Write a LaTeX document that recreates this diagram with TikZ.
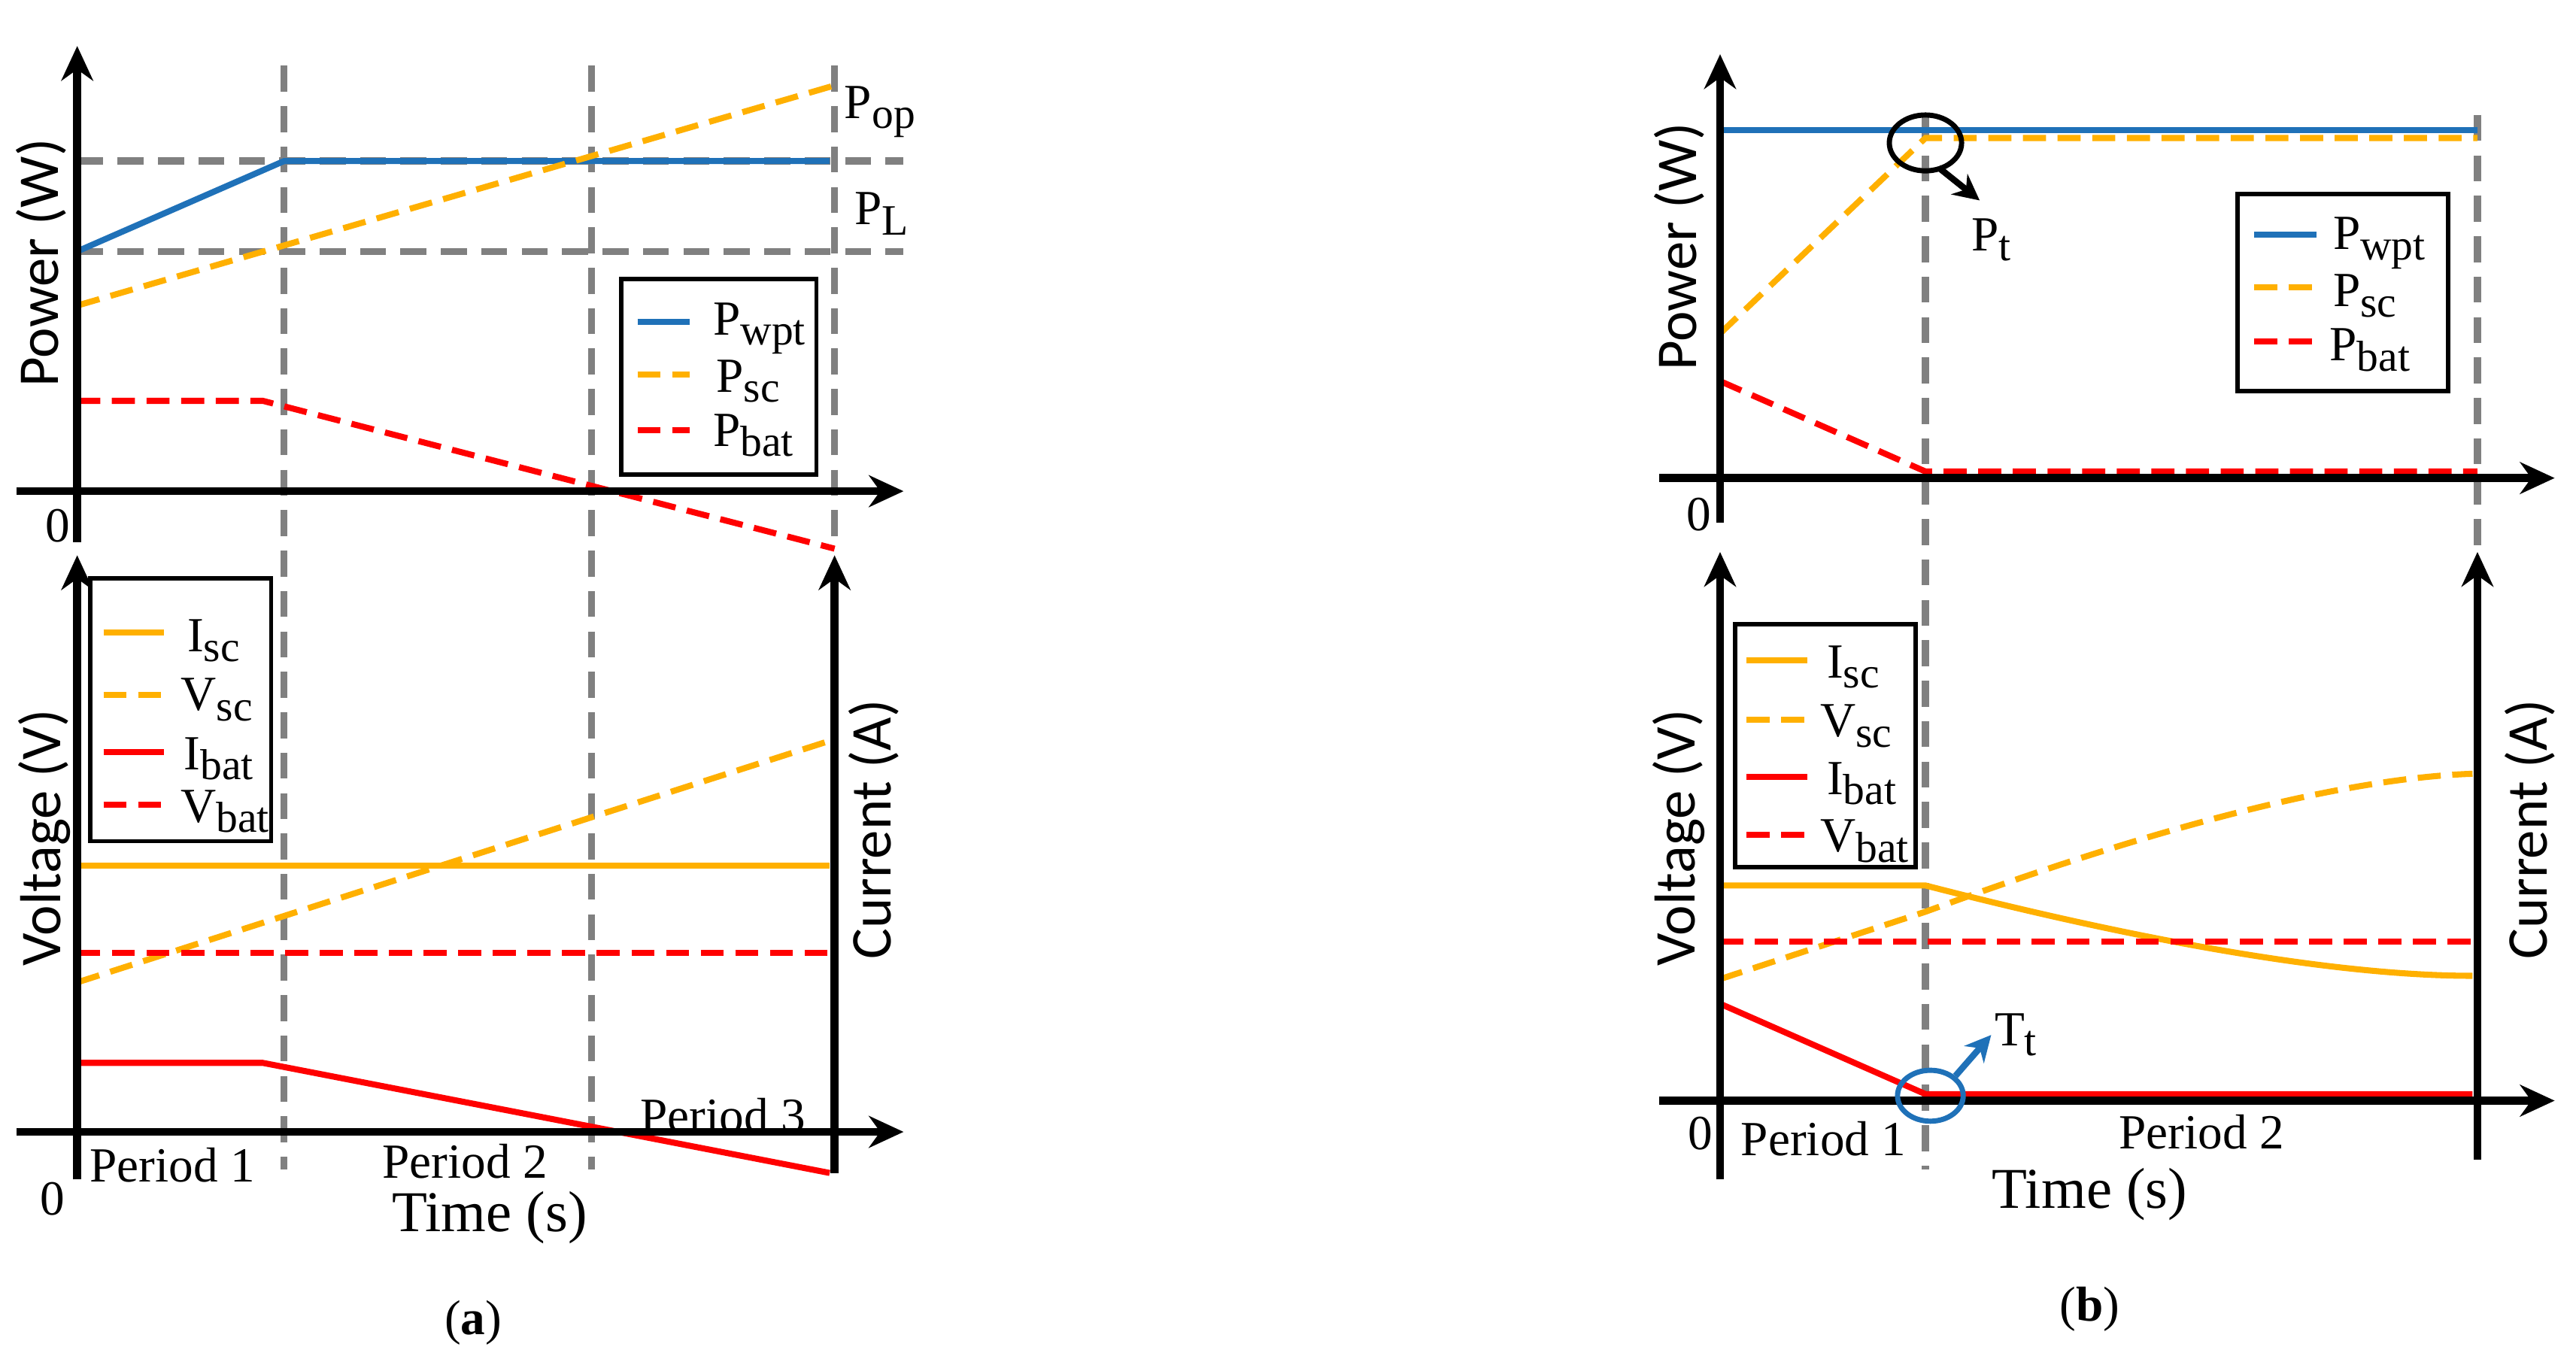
\documentclass[tikz,border=0pt]{standalone}
\usepackage{fontspec}
\setmainfont{Liberation Serif}
\newfontfamily\lblfont{Carlito}
\usetikzlibrary{arrows.meta,shapes.geometric}
\definecolor{cblue}{RGB}{31,113,184}
\definecolor{corange}{RGB}{255,176,0}
\definecolor{cred}{RGB}{255,0,0}
\definecolor{cgray}{RGB}{128,128,128}
\newcommand{\subx}[1]{\raisebox{-0.45ex}{\fontsize{15}{15}\selectfont #1}}
\begin{document}
\begin{tikzpicture}[x=0.02cm,y=-0.02cm,
 ax/.style={line width=2.8pt,-{Stealth[length=12pt,width=11pt]}},
 gd/.style={cgray,line width=2.4pt,dash pattern=on 9pt off 5pt},
 bl/.style={cblue,line width=2.1pt},
 os/.style={corange,line width=2.1pt},
 od/.style={corange,line width=2.1pt,dash pattern=on 8pt off 4pt},
 rs/.style={cred,line width=2.1pt},
 rd/.style={cred,line width=2.1pt,dash pattern=on 8pt off 4pt},
 tx/.style={font=\fontsize{17}{19}\selectfont,inner sep=1pt},
 lb/.style={font=\lblfont\fontsize{20}{22}\selectfont,inner sep=1pt},
 lg/.style={draw,line width=1.5pt,fill=white}]
\useasboundingbox (0,0) rectangle (1568,829);
% ===== (a) =====
\draw[gd] (173,40) -- (173,712);
\draw[gd] (360,40) -- (360,712);
\draw[gd] (508,40) -- (508,330);
\draw[gd] (47,98) -- (550,98);
\draw[gd] (47,153) -- (550,153);
\draw[bl] (47,153) -- (173,98) -- (505,98);
\draw[od] (47,186) -- (508,52);
\draw[rd] (47,244) -- (160,244) -- (508,334);
\draw[ax] (47,330) -- (47,28);
\draw[ax] (10,299) -- (550,299);
\node[tx] (a0) at (35,320) {0};
\node[tx,anchor=west] (pop) at (512,68) {P\subx{op}};
\node[tx,anchor=west] (pl) at (518,130) {P\subx{L}};
\node[lb,rotate=90] (apw) at (25,160) {Power (W)};
\draw[lg] (378,170) rectangle (497,289);
\draw[bl] (388,196) -- (420,196); \node[tx,anchor=west] (la1) at (432,200) {P\subx{wpt}};
\draw[od] (388,228) -- (420,228); \node[tx,anchor=west] (la2) at (434,232) {P\subx{sc}};
\draw[rd] (388,262) -- (420,262); \node[tx,anchor=west] (la3) at (432,265) {P\subx{bat}};
% lower (a)
\draw[os] (47,527) -- (505,527);
\draw[od] (47,598) -- (508,450);
\draw[rd] (47,580) -- (505,580);
\draw[rs] (47,647) -- (160,647) -- (505,714);
\draw[ax] (47,718) -- (47,338);
\draw[ax] (508,714) -- (508,338);
\draw[ax] (10,689) -- (550,689);
\draw[lg] (55,352) rectangle (165,512);
\draw[os] (63,385) -- (100,385); \node[tx,anchor=west] (lb1) at (112,390) {I\subx{sc}};
\draw[od] (63,423) -- (100,423); \node[tx,anchor=west] (lb2) at (108,426) {V\subx{sc}};
\draw[rs] (63,458) -- (100,458); \node[tx,anchor=west] (lb3) at (110,462) {I\subx{bat}};
\draw[rd] (63,490) -- (100,490); \node[tx,anchor=west] (lb4) at (108,494) {V\subx{bat}};
\node[tx] (a00) at (32,730) {0};
\node[tx] (ap1) at (105,709) {Period 1};
\node[tx] (ap2) at (283,707) {Period 2};
\node[tx] (ap3) at (440,679) {Period 3};
\node[tx,font=\fontsize{20}{22}\selectfont] (at) at (298,741) {Time (s)};
\node[lb,rotate=90] (av) at (27,510) {Voltage (V)};
\node[lb,rotate=90] (ac) at (532,505) {Current (A)};
\node[tx] (cap1) at (288,805) {(\textbf{a})};
% ===== (b) =====
\draw[gd] (1172,70) -- (1172,712);
\draw[gd] (1508,70) -- (1508,340);
\draw[bl] (1047,79) -- (1508,79);
\draw[od] (1047,203) -- (1172,84) -- (1508,84);
\draw[rd] (1047,232) -- (1172,287) -- (1508,287);
\draw[ax] (1047,318) -- (1047,33);
\draw[ax] (1010,291) -- (1555,291);
\node[tx] (b0) at (1034,313) {0};
\node[lb,rotate=90] (bpw) at (1022,150) {Power (W)};
\node[draw,line width=1.8pt,ellipse,minimum width=0.88cm,minimum height=0.68cm,inner sep=0pt] (el1) at (1172,87) {};
\draw[line width=2.2pt,-{Stealth[length=9pt,width=9pt]}] (1180,102) -- (1205,122);
\node[tx,anchor=west] (pt) at (1198,146) {P\subx{t}};
\draw[lg] (1362,118) rectangle (1490,238);
\draw[bl] (1372,143) -- (1410,143); \node[tx,anchor=west] (lc1) at (1418,148) {P\subx{wpt}};
\draw[od] (1372,175) -- (1410,175); \node[tx,anchor=west] (lc2) at (1418,180) {P\subx{sc}};
\draw[rd] (1372,208) -- (1410,208); \node[tx,anchor=west] (lc3) at (1416,213) {P\subx{bat}};
% lower (b)
\draw[os] (1047,539) -- (1172,539) .. controls (1300,572) and (1420,594) .. (1505,594);
\draw[od] (1047,596) -- (1172,555) .. controls (1300,508) and (1420,474) .. (1505,471);
\draw[rd] (1047,573) -- (1505,573);
\draw[rs] (1047,611) -- (1172,666) -- (1505,666);
\draw[ax] (1047,718) -- (1047,336);
\draw[ax] (1508,706) -- (1508,336);
\draw[ax] (1010,670) -- (1555,670);
\draw[lg] (1056,380) rectangle (1166,528);
\draw[os] (1063,402) -- (1100,402); \node[tx,anchor=west] (ld1) at (1110,406) {I\subx{sc}};
\draw[od] (1063,438) -- (1100,438); \node[tx,anchor=west] (ld2) at (1106,442) {V\subx{sc}};
\draw[rs] (1063,473) -- (1100,473); \node[tx,anchor=west] (ld3) at (1110,477) {I\subx{bat}};
\draw[rd] (1063,508) -- (1100,508); \node[tx,anchor=west] (ld4) at (1106,512) {V\subx{bat}};
\node[draw=cblue,line width=1.8pt,ellipse,minimum width=0.8cm,minimum height=0.62cm,inner sep=0pt] (el2) at (1175,667) {};
\draw[cblue,line width=2.2pt,-{Stealth[length=9pt,width=9pt]}] (el2.north east) -- (1212,630);
\node[tx,anchor=west] (tt) at (1212,630) {T\subx{t}};
\node[tx] (b00) at (1035,690) {0};
\node[tx] (bp1) at (1110,693) {Period 1};
\node[tx] (bp2) at (1340,689) {Period 2};
\node[tx,font=\fontsize{20}{22}\selectfont] (bt) at (1272,727) {Time (s)};
\node[lb,rotate=90] (bv) at (1022,510) {Voltage (V)};
\node[lb,rotate=90] (bc) at (1540,505) {Current (A)};
\node[tx] (cap2) at (1272,797) {(\textbf{b})};
\end{tikzpicture}
\end{document}
